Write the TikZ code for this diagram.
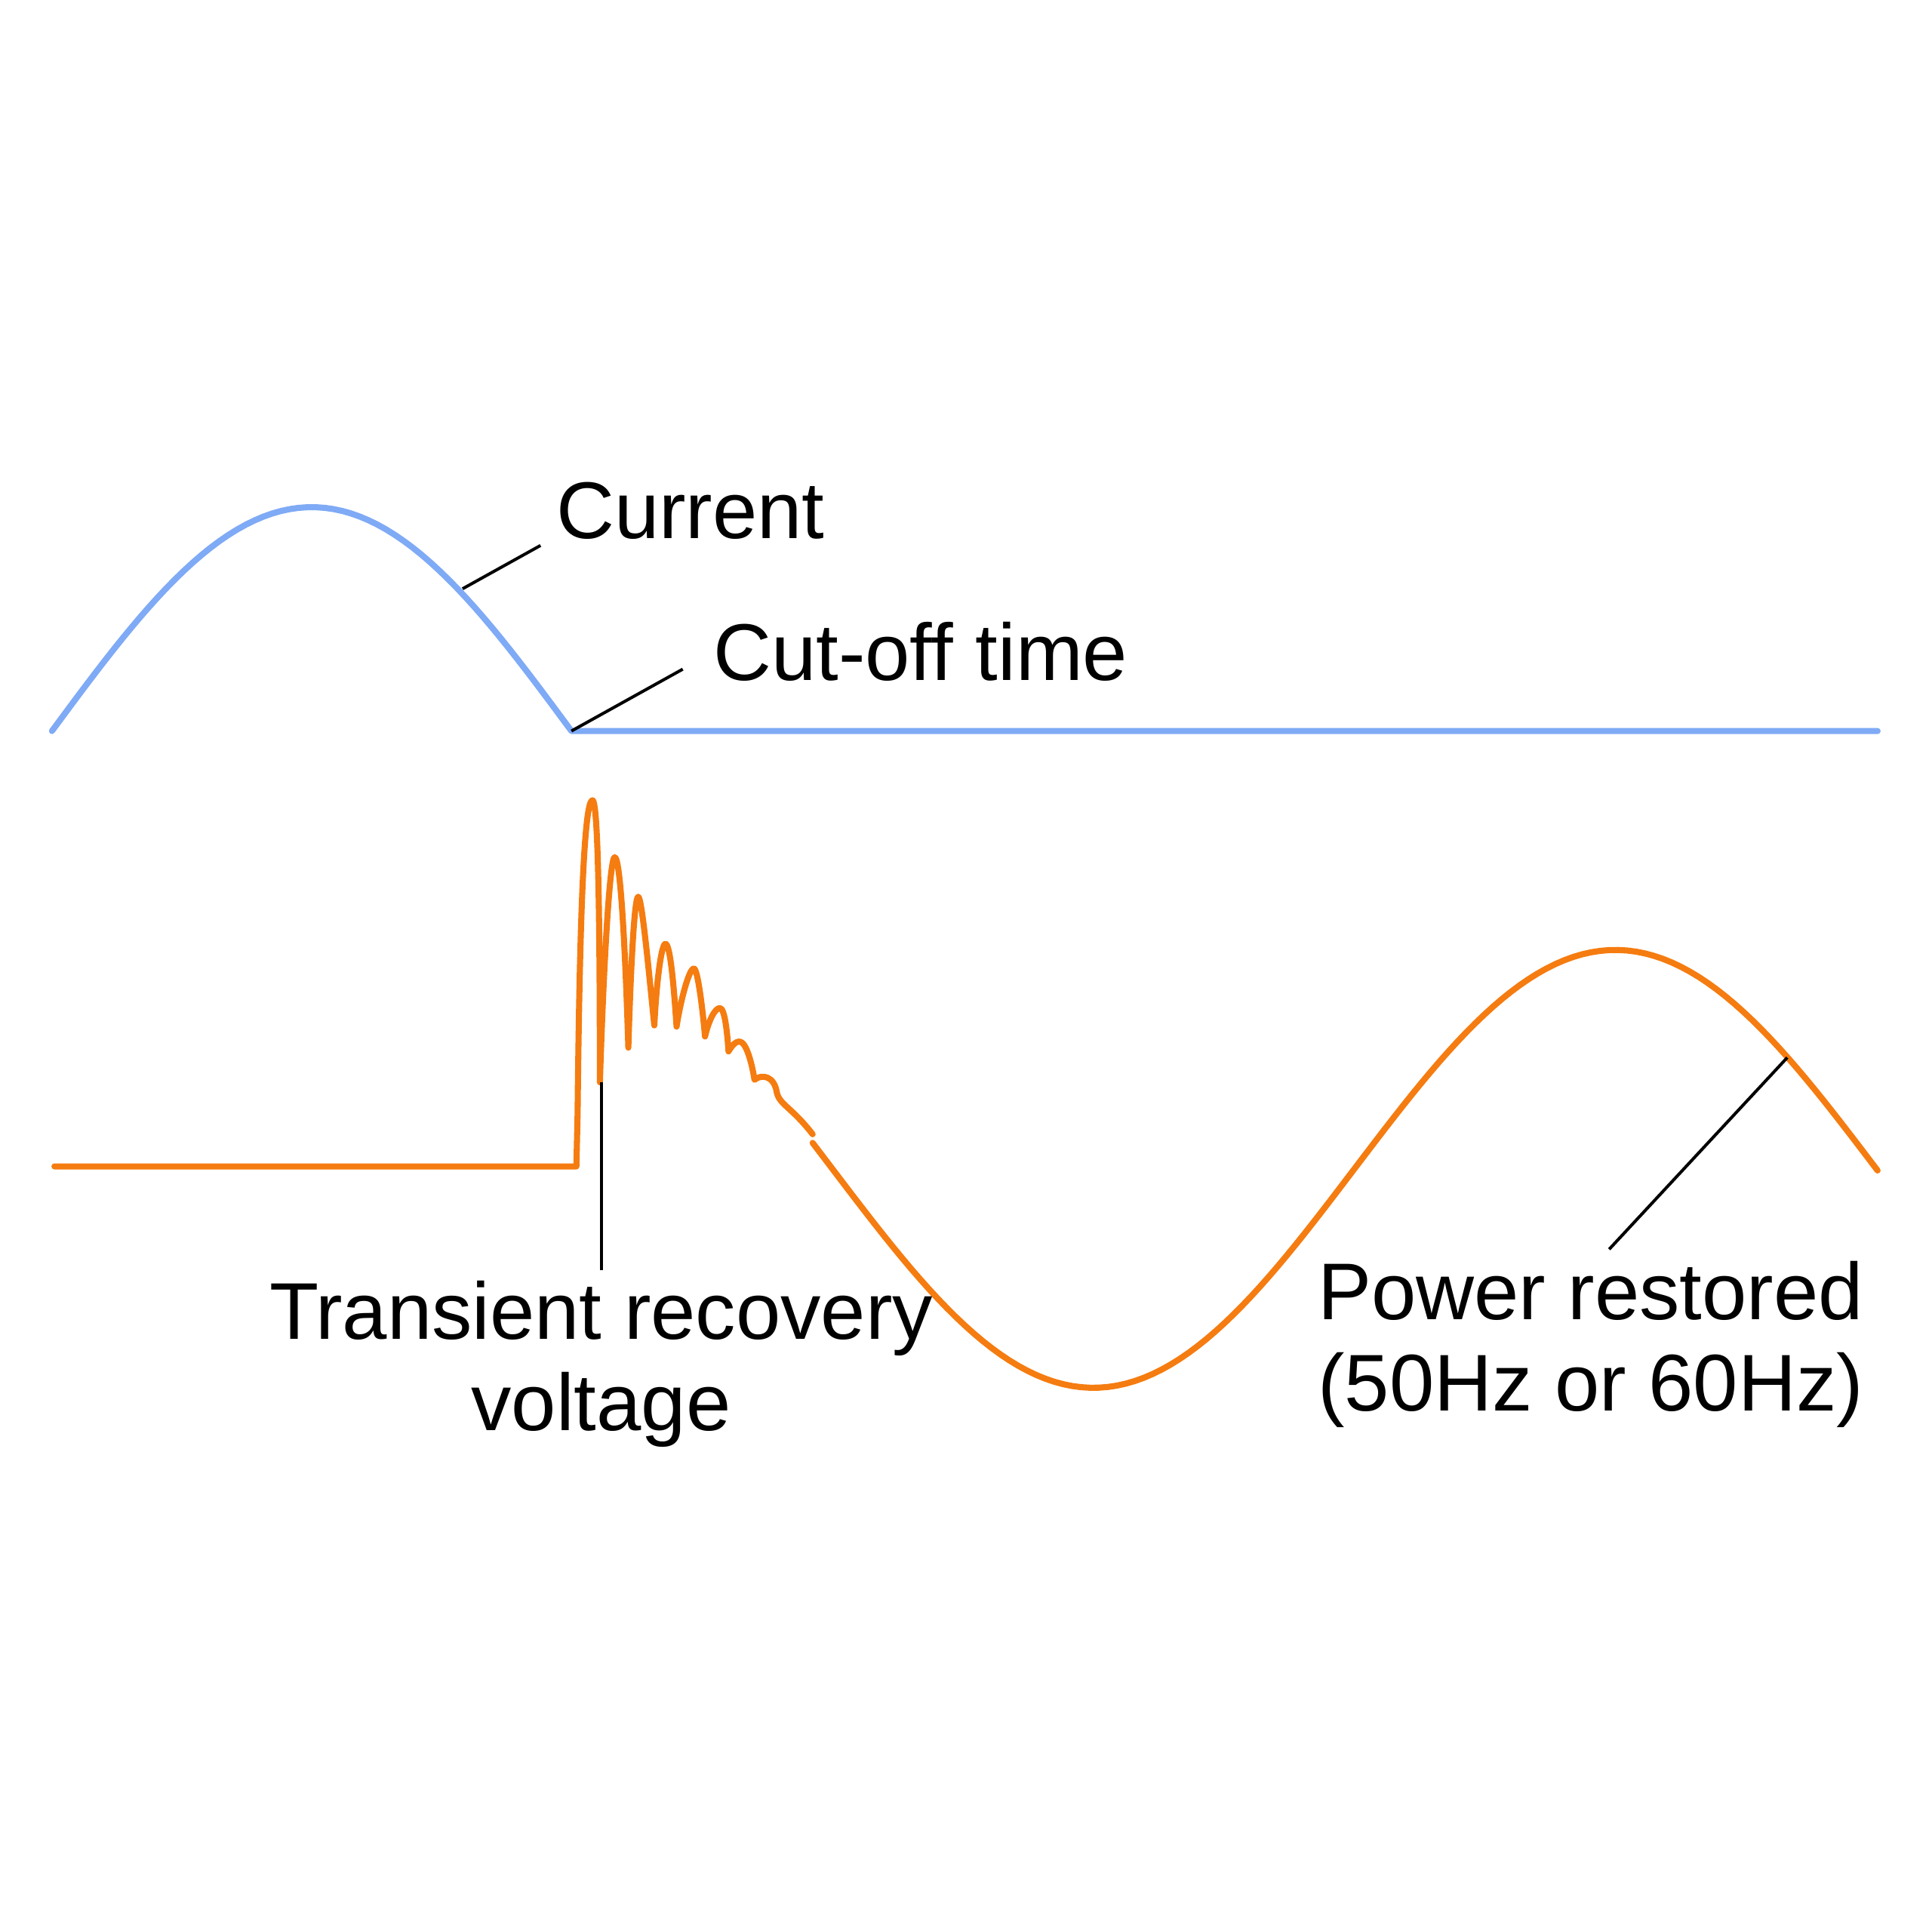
\documentclass[tikz,border=0pt]{standalone}
\usepackage{fontspec}
\setmainfont{Liberation Sans}
\definecolor{currentblue}{HTML}{7FAAF5}
\definecolor{voltorange}{HTML}{F57C10}
\begin{document}
\begin{tikzpicture}[x=0.01cm,y=-0.01cm,
    wave/.style={line width=1.4pt,line cap=round,line join=round},
    leader/.style={line width=0.7pt},
    lbl/.style={font=\fontsize{18.5}{21}\selectfont,align=center,inner sep=0pt}]
    \useasboundingbox (0,0) rectangle (1562,1562);
    % Current
    \draw[wave,currentblue] plot[domain=42:462,samples=60] (\x,{591-181*sin((\x-42)/420*180)})
        -- (1518,591);
    % Voltage
    \draw[wave,voltorange] (44,943) -- (466,943) -- (467,900)
        .. controls (469,700) and (474,647) .. (479,647) .. controls (484,647) and (485,760) .. (485,875)
        .. controls (488,780) and (493,693) .. (497,693) .. controls (502,693) and (506,780) .. (508,847)
        .. controls (510,780) and (513,725) .. (516,725) .. controls (519,725) and (525,790) .. (529,829)
        .. controls (531,790) and (535,763) .. (538,763) .. controls (542,763) and (545,800) .. (547,830)
        .. controls (550,810) and (557,783) .. (561,783) .. controls (564,783) and (568,815) .. (570,838)
        .. controls (573,825) and (578,815) .. (582,815) .. controls (586,815) and (588,835) .. (589,850)
        .. controls (592,845) and (596,840) .. (600,843) .. controls (604,846) and (608,860) .. (610,873)
        .. controls (616,868) and (626,870) .. (628,883) .. controls (630,893) and (640,895) .. (657,917)
        plot[domain=657:1518,samples=120] (\x,{945+177*cos((\x-884)/422*180)});
    % Labels
    \coordinate (curpt) at (374,476);
    \coordinate (cutpt) at (462,591);
    \coordinate (trvpt) at (486,875);
    \coordinate (powpt) at (1445,855);
    \node[lbl,anchor=west] (current) at (449,413) {Current};
    \node[lbl,anchor=west] (cutoff) at (576,527) {Cut-off time};
    \node[lbl] (trv) at (486,1103) {Transient recovery\\voltage};
    \node[lbl] (power) at (1286,1087) {Power restored\\(50Hz or 60Hz)};
    \coordinate (curend) at (437,441);
    \coordinate (cutend) at (552,541);
    \coordinate (trvend) at (486,1027);
    \coordinate (powend) at (1301,1010);
    \draw[leader] (curpt) -- (curend);
    \draw[leader] (cutpt) -- (cutend);
    \draw[leader] (trvpt) -- (trvend);
    \draw[leader] (powpt) -- (powend);
\end{tikzpicture}
\end{document}
